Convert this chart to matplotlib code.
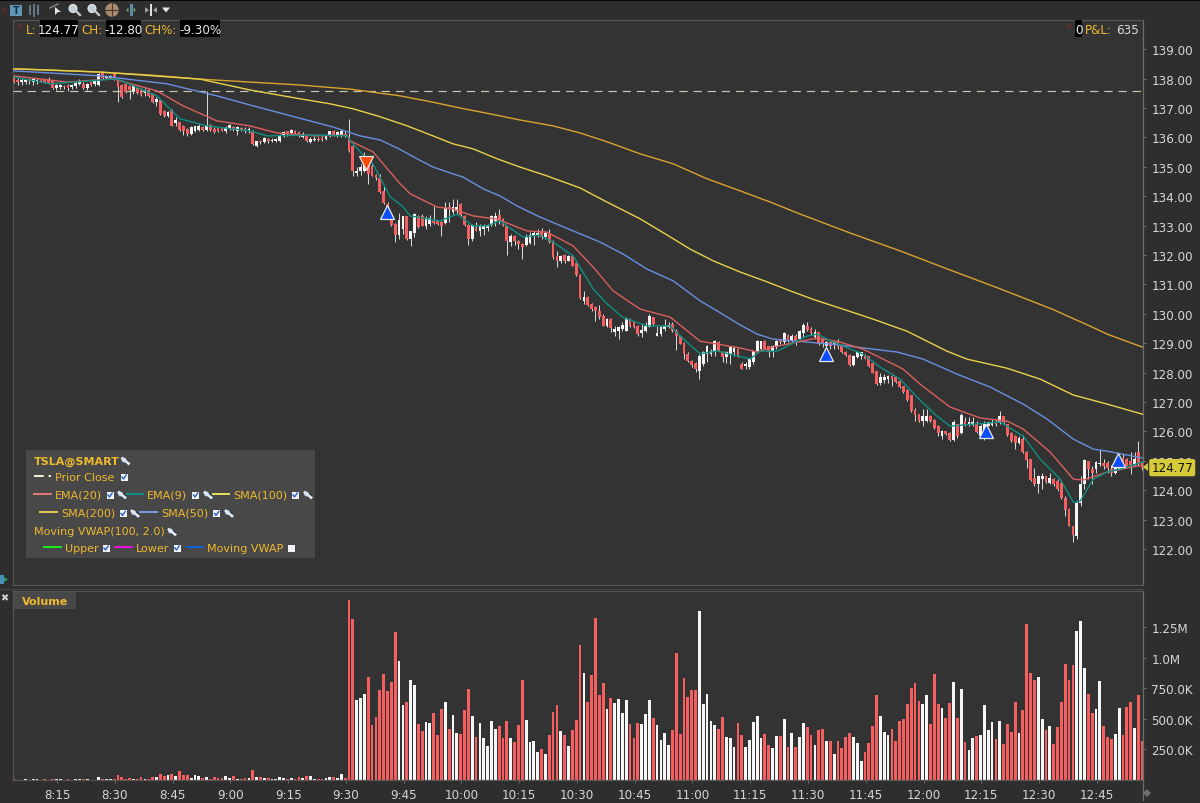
import matplotlib
matplotlib.use('Agg')
import matplotlib.pyplot as plt
from matplotlib.patches import Rectangle, Circle, Polygon

# 1-minute TSLA bars, first bar is about 8:04
opens = [
    138.08, 137.95, 137.87, 137.87, 137.99, 137.87, 137.87, 137.95, 137.95, 137.95, 137.90, 137.67, 137.70, 137.76, 137.78,
    137.70, 137.74, 137.83, 137.82, 137.67, 137.87, 137.82, 137.78, 138.19, 138.01, 138.01, 138.14, 137.93, 137.78, 137.82,
    137.74, 137.53, 137.67, 137.62, 137.51, 137.62, 137.48, 137.21, 137.28, 136.91, 136.72, 136.94, 136.49, 136.51, 136.40,
    136.29, 136.11, 136.23, 136.26, 136.36, 136.26, 136.42, 136.29, 136.31, 136.31, 136.22, 136.29, 136.34, 136.23, 136.31,
    136.29, 136.20, 136.23, 135.72, 135.89, 135.83, 135.95, 135.86, 135.88, 135.89, 136.04, 136.20, 136.15, 136.23, 136.17,
    136.00, 136.04, 135.83, 135.90, 135.95, 135.97, 135.95, 136.04, 136.23, 136.06, 136.06, 136.11,
    136.01, 135.72, 134.79, 134.85, 134.87, 135.21, 135.04, 134.72, 134.61, 134.17, 133.74, 133.23, 133.06, 132.68, 132.89,
    133.32, 132.53, 132.75, 133.34, 133.34, 132.98, 133.06, 133.17, 133.17, 133.11, 133.09, 133.62, 133.46, 133.48, 133.74,
    133.34, 133.02, 132.55, 132.92, 132.83, 132.87, 132.91, 133.02, 133.17, 133.36, 133.23, 132.98, 132.43, 132.64, 132.49,
    132.38, 132.34, 132.41, 132.66, 132.68, 132.83, 132.60, 132.72, 132.49, 131.96, 131.81, 132.00, 131.81, 131.98, 131.73,
    131.32, 130.45, 130.56, 130.34, 130.22, 130.11, 129.94, 129.60, 129.83, 129.37, 129.43, 129.49, 129.43, 129.83, 129.71,
    129.60, 129.35, 129.40, 129.54, 129.88, 129.26, 129.32, 129.49, 129.54, 129.66, 129.43, 129.26, 129.01, 128.64, 128.41,
    128.33, 128.07, 128.30, 128.64, 128.64, 128.72, 129.03, 128.69, 128.52, 128.64, 128.69, 128.81,
    128.29, 128.21, 128.18, 128.37, 128.74, 128.82, 129.08, 128.89, 128.74, 128.86, 129.12, 129.05, 129.29, 129.08, 129.25,
    129.14, 129.34, 129.59, 129.48, 129.20, 129.37, 129.14, 128.91, 129.03, 128.94, 129.03, 128.91, 128.71, 128.60, 128.26,
    128.52, 128.55, 128.60, 128.55, 128.32, 128.04, 127.64, 127.76, 127.78, 127.89, 127.84, 127.72, 127.53, 127.40, 127.23,
    126.72, 126.59, 126.36, 126.36, 126.53, 126.40, 126.19, 125.85, 126.00, 125.96, 125.72, 126.25, 125.94, 126.36, 126.23,
    126.23, 126.25, 125.83, 125.85, 126.19, 126.21, 126.33, 126.31, 126.51, 126.25, 125.94, 125.85, 125.60, 125.76, 125.31,
    125.06, 124.43, 124.21, 124.38, 124.47, 124.26, 124.40, 124.32, 124.24, 123.75, 123.38, 122.77, 122.45, 123.58, 124.21,
    124.99, 124.74, 124.72, 124.89, 124.94, 124.94, 124.74, 124.60, 124.74, 125.11, 125.06, 125.00, 124.85, 125.29, 124.97,
]
closes = [
    137.87, 137.87, 137.95, 137.95, 137.90, 137.99, 137.95, 137.90, 137.87, 137.85, 137.67, 137.78, 137.78, 137.70, 137.67,
    137.78, 137.85, 137.93, 137.67, 137.82, 137.78, 137.93, 138.16, 138.01, 138.08, 138.08, 137.99, 137.70, 137.36, 137.53,
    137.62, 137.74, 137.51, 137.44, 137.62, 137.40, 137.19, 137.31, 136.80, 136.72, 136.85, 136.40, 136.60, 136.26, 136.23,
    136.11, 136.34, 136.38, 136.40, 136.26, 136.42, 136.26, 136.17, 136.22, 136.23, 136.31, 136.42, 136.26, 136.34, 136.26,
    136.20, 136.29, 135.77, 135.86, 135.83, 135.97, 135.86, 135.92, 135.95, 136.08, 136.17, 136.11, 136.26, 136.15, 136.04,
    136.11, 135.89, 135.95, 135.95, 135.90, 135.90, 136.08, 136.20, 136.08, 136.17, 136.20, 136.04,
    135.52, 134.87, 134.87, 134.99, 135.27, 134.76, 134.70, 134.61, 134.13, 133.76, 133.34, 133.02, 132.68, 133.19, 133.32,
    132.55, 132.80, 133.40, 132.95, 133.00, 133.23, 133.25, 133.09, 133.06, 133.00, 133.59, 133.55, 133.62, 133.62, 133.36,
    133.02, 132.53, 133.02, 132.83, 132.98, 133.00, 133.02, 133.34, 133.34, 133.17, 133.00, 132.46, 132.66, 132.49, 132.38,
    132.27, 132.60, 132.68, 132.75, 132.75, 132.60, 132.75, 132.43, 131.92, 131.78, 131.98, 131.81, 131.98, 131.64, 131.32,
    130.53, 130.56, 130.30, 130.17, 130.08, 129.88, 129.60, 129.83, 129.51, 129.48, 129.54, 129.62, 129.83, 129.60, 129.54,
    129.32, 129.46, 129.60, 129.92, 129.66, 129.35, 129.54, 129.60, 129.62, 129.40, 129.26, 128.98, 128.64, 128.41, 128.26,
    128.13, 128.58, 128.69, 128.92, 128.75, 129.09, 128.75, 128.52, 128.69, 128.86, 128.83, 128.58,
    128.14, 128.29, 128.46, 128.74, 129.06, 129.06, 128.82, 128.71, 128.89, 129.06, 129.03, 129.34, 129.08, 129.25, 129.08,
    129.42, 129.62, 129.46, 129.34, 129.37, 128.97, 128.97, 129.03, 128.89, 129.03, 128.86, 128.69, 128.60, 128.26, 128.57,
    128.69, 128.69, 128.48, 128.21, 128.00, 127.61, 127.84, 127.84, 127.87, 127.80, 127.67, 127.50, 127.35, 127.08, 126.70,
    126.55, 126.36, 126.51, 126.53, 126.34, 126.13, 125.94, 126.00, 125.91, 125.72, 126.31, 125.85, 126.55, 126.23, 126.31,
    126.33, 125.99, 126.17, 126.25, 126.31, 126.31, 126.25, 126.51, 126.31, 125.87, 125.68, 125.62, 125.79, 125.31, 125.03,
    124.36, 124.21, 124.49, 124.49, 124.29, 124.43, 124.21, 124.04, 123.74, 123.33, 122.79, 122.47, 123.58, 124.21, 125.04,
    124.72, 124.60, 124.97, 124.94, 124.81, 124.77, 124.60, 124.77, 125.00, 124.83, 124.83, 124.83, 125.06, 124.89, 124.77,
]
highs = [
    138.10, 138.01, 138.01, 137.99, 138.01, 138.01, 138.01, 137.99, 137.99, 138.04, 137.90, 137.82, 137.82, 137.78, 137.82,
    137.82, 137.90, 137.99, 137.87, 137.85, 137.90, 137.99, 138.19, 138.21, 138.12, 138.12, 138.17, 137.99, 137.82, 137.85,
    137.78, 137.82, 137.70, 137.67, 137.67, 137.65, 137.51, 137.36, 137.31, 136.94, 136.91, 136.97, 136.68, 136.53, 136.42,
    136.31, 136.38, 136.40, 136.46, 136.40, 137.59, 136.46, 136.34, 136.34, 136.34, 136.40, 136.46, 136.38, 136.40, 136.34,
    136.34, 136.34, 136.25, 135.89, 135.92, 136.00, 135.97, 135.97, 135.99, 136.11, 136.20, 136.23, 136.29, 136.26, 136.20,
    136.17, 136.06, 136.00, 136.04, 136.00, 136.04, 136.11, 136.23, 136.26, 136.23, 136.26, 136.20,
    136.63, 135.75, 134.99, 135.10, 135.50, 135.30, 135.08, 134.76, 134.76, 134.30, 133.80, 133.30, 133.10, 133.43, 133.34,
    133.34, 132.83, 133.42, 133.37, 133.38, 133.34, 133.36, 133.66, 133.20, 133.15, 133.79, 133.79, 133.91, 133.89, 133.78,
    133.36, 133.04, 133.06, 133.11, 133.06, 133.06, 133.06, 133.36, 133.46, 133.57, 133.25, 133.00, 132.72, 132.68, 132.52,
    132.40, 132.72, 132.77, 132.80, 132.89, 132.91, 132.80, 132.89, 132.51, 132.12, 132.00, 132.02, 132.00, 132.00, 131.76,
    131.34, 130.76, 130.60, 130.36, 130.28, 130.30, 129.98, 129.85, 129.85, 129.60, 129.58, 129.71, 129.88, 129.85, 129.77,
    129.62, 129.66, 129.71, 130.00, 129.90, 129.60, 129.60, 129.83, 129.71, 129.71, 129.49, 129.29, 129.04, 128.69, 128.43,
    128.36, 128.64, 128.75, 128.94, 128.81, 129.12, 129.09, 128.72, 128.75, 128.90, 128.90, 128.85,
    128.35, 128.37, 128.48, 128.76, 129.12, 129.08, 129.10, 128.91, 128.94, 129.12, 129.15, 129.39, 129.31, 129.31, 129.31,
    129.46, 129.68, 129.73, 129.54, 129.50, 129.39, 129.16, 129.08, 129.08, 129.08, 129.16, 128.94, 128.74, 128.63, 128.60,
    128.71, 128.71, 128.63, 128.57, 128.35, 128.06, 127.98, 127.95, 127.91, 127.91, 127.89, 127.74, 127.55, 127.44, 127.25,
    126.81, 126.61, 126.76, 126.78, 126.55, 126.42, 126.21, 126.06, 126.02, 125.98, 126.40, 126.27, 126.62, 126.48, 126.48,
    126.48, 126.36, 126.25, 126.36, 126.33, 126.42, 126.42, 126.70, 126.53, 126.27, 125.99, 125.87, 125.85, 125.87, 125.33,
    125.08, 124.77, 124.51, 124.58, 124.49, 124.60, 124.43, 124.38, 124.32, 123.79, 123.40, 122.79, 123.64, 124.49, 125.06,
    125.01, 124.83, 125.00, 125.38, 125.06, 125.00, 124.85, 124.83, 125.06, 125.23, 125.10, 125.31, 125.31, 125.68, 125.00,
]
lows = [
    137.85, 137.78, 137.78, 137.82, 137.82, 137.78, 137.82, 137.87, 137.85, 137.82, 137.65, 137.62, 137.65, 137.65, 137.56,
    137.65, 137.67, 137.78, 137.65, 137.62, 137.76, 137.76, 137.76, 137.99, 137.99, 137.99, 137.95, 137.19, 137.33, 137.51,
    137.31, 137.48, 137.47, 137.40, 137.42, 137.36, 137.17, 137.08, 136.76, 136.68, 136.68, 136.38, 136.40, 136.23, 136.08,
    136.06, 136.08, 136.17, 136.20, 136.20, 136.21, 136.23, 136.15, 136.17, 136.20, 136.15, 136.24, 136.23, 136.08, 136.23,
    136.15, 136.15, 135.74, 135.67, 135.78, 135.81, 135.81, 135.83, 135.83, 135.85, 136.00, 136.06, 136.10, 136.10, 136.00,
    135.97, 135.85, 135.80, 135.86, 135.88, 135.86, 135.90, 136.00, 136.04, 136.01, 136.01, 136.00,
    135.50, 134.70, 134.70, 134.72, 134.82, 134.42, 134.68, 134.55, 134.10, 133.74, 133.30, 133.00, 132.43, 132.55, 132.72,
    132.50, 132.30, 132.60, 132.93, 132.98, 132.89, 133.00, 133.06, 133.03, 132.63, 133.06, 133.11, 133.40, 133.40, 133.34,
    133.00, 132.34, 132.46, 132.80, 132.64, 132.68, 132.80, 133.00, 133.00, 133.06, 132.98, 132.00, 132.30, 132.34, 132.21,
    131.87, 132.32, 132.38, 132.34, 132.60, 132.55, 132.55, 132.41, 131.87, 131.58, 131.73, 131.73, 131.78, 131.62, 131.30,
    130.51, 130.34, 130.27, 130.11, 129.74, 129.83, 129.58, 129.54, 129.37, 129.26, 129.15, 129.40, 129.40, 129.54, 129.51,
    129.24, 129.20, 129.37, 129.54, 129.60, 129.23, 129.26, 129.43, 129.51, 129.37, 128.78, 128.96, 128.47, 128.35, 128.18,
    128.01, 127.79, 128.24, 128.35, 128.58, 128.58, 128.72, 128.35, 128.33, 128.30, 128.58, 128.52,
    128.12, 128.14, 128.12, 128.29, 128.71, 128.78, 128.80, 128.52, 128.52, 128.82, 128.98, 128.97, 129.04, 129.03, 128.94,
    129.12, 129.20, 129.42, 129.28, 129.16, 128.94, 128.86, 128.80, 128.82, 128.82, 128.82, 128.66, 128.58, 128.24, 128.24,
    128.49, 128.48, 128.46, 128.18, 127.98, 127.58, 127.57, 127.64, 127.64, 127.53, 127.64, 127.47, 127.30, 127.04, 126.67,
    126.36, 126.33, 126.19, 126.31, 126.31, 126.10, 125.85, 125.76, 125.87, 125.68, 125.68, 125.79, 125.91, 126.19, 126.19,
    126.19, 125.96, 125.79, 125.72, 126.17, 126.17, 126.19, 126.25, 126.28, 125.85, 125.65, 125.42, 125.57, 125.28, 124.77,
    124.33, 124.15, 123.90, 124.06, 124.26, 124.21, 124.15, 123.98, 123.72, 123.11, 122.77, 122.25, 122.34, 123.45, 124.04,
    124.38, 124.21, 124.60, 124.83, 124.74, 124.60, 124.49, 124.55, 124.70, 124.77, 124.80, 124.55, 124.83, 124.83, 124.70,
]

# volume per bar, in thousands of shares
volumes = [
    8, 2, 2, 8, 2, 8, 8, 2, 8, 2, 8, 8, 8, 2, 8, 2, 8, 8, 8, 8, 2, 2, 22, 8, 8, 8, 8, 41, 22, 8,
    16, 8, 8, 24, 8, 8, 24, 27, 49, 33, 44, 49, 33, 73, 41, 41, 16, 41, 33, 16, 24, 8, 24, 14, 19, 33, 19, 33, 8, 8,
    16, 16, 82, 24, 24, 16, 16, 8, 8, 24, 16, 8, 16, 8, 24, 16, 33, 33, 8, 8, 8, 16, 24, 24, 16, 49,
    16, 1469, 1319, 653, 669, 699, 838, 449, 511, 732, 865, 724, 800, 1208, 974, 612, 636, 816, 778, 457,
    400, 471, 465, 544, 370, 579, 636, 416, 528, 384, 378, 574, 740, 522, 354, 465, 345, 277, 481, 416,
    438, 340, 479, 340, 307, 449, 816, 490, 307, 316, 228, 253, 212, 370, 558, 612, 400, 370, 277, 408,
    490, 1099, 873, 636, 857, 1327, 694, 792, 582, 669, 628, 661, 544, 653, 457, 340, 465, 457, 536, 653,
    503, 449, 324, 386, 286, 408, 1036, 378, 832, 677, 732, 732, 1382, 620, 699, 481, 449, 416, 511, 348,
    340, 269, 465, 370, 269, 324, 473, 520,
    345, 375, 286, 261, 362, 362, 495, 269, 384, 269, 354, 465, 432, 370, 286, 408, 416, 316, 316, 212,
    316, 261, 354, 384, 354, 299, 158, 228, 299, 441, 691, 520, 394, 370, 416, 316, 479, 495, 620, 753,
    792, 645, 620, 691, 457, 865, 620, 590, 503, 628, 800, 503, 745, 307, 245, 345, 362, 370, 612, 408,
    471, 337, 479, 291, 457, 394, 636, 384, 574, 1273, 873, 816, 840, 495, 408, 441, 291, 432, 636, 944,
    816, 936, 1216, 1295, 919, 699, 549, 582, 808, 441, 354, 337, 378, 590, 370, 596, 636, 424, 691, 316,
]

# moving averages, (bar number, price)
sma200_x = [0, 9.4, 22.3, 35.3, 48.3, 61.3, 74.3, 87.3, 100.3, 108.6, 116.9, 123.6, 131.4, 140, 147, 154, 162.6, 171.2, 180, 188.6,
            196.4, 204.2, 217.1, 230.1, 243.1, 256.1, 269.6, 279.5, 283.9, 293]
sma200_y = [138.33, 138.29, 138.22, 138.12, 137.98, 137.88, 137.78, 137.64, 137.41, 137.20, 136.97, 136.80, 136.59, 136.39, 136.15, 135.85, 135.44, 135.10, 134.59, 134.18,
            133.80, 133.39, 132.75, 132.14, 131.49, 130.85, 130.16, 129.58, 129.31, 128.87]
sma100_x = [0, 22.3, 48.3, 61.3, 74.3, 82.1, 88.1, 95.1, 102.1, 108.8, 114, 119.2, 125.5, 131.4, 138.4, 147, 154, 162.6, 169.6, 175.6, 181.6, 188.6,
            195.1, 201.6, 208, 215.3, 223.1, 231.9, 237.1, 242.3, 247.5, 257.9, 266.5, 275.1, 283.9, 293]
sma100_y = [138.33, 138.22, 137.98, 137.61, 137.31, 137.14, 136.97, 136.70, 136.39, 136.05, 135.78, 135.61, 135.27, 134.99, 134.69, 134.28, 133.80, 133.23, 132.68, 132.20, 131.80, 131.42,
            131.11, 130.78, 130.47, 130.16, 129.82, 129.41, 129.07, 128.73, 128.46, 128.15, 127.78, 127.24, 126.93, 126.59]
sma50_x = [0, 22.3, 39.7, 52.7, 61.3, 69.9, 82.9, 89.9, 95.1, 99.5, 104.7, 108.8, 114, 116.6, 122, 126.2, 130.6, 136.6, 145.2, 152.2, 158.2, 164.4, 171.2, 178.2, 182.6, 188.6,
           193, 197.1, 205.9, 214.5, 223.1, 229.4, 236.1, 244.9, 253.5, 262.1, 268.3, 275.1, 280.3, 283.9, 293]
sma50_y = [138.26, 138.09, 137.82, 137.41, 137.10, 136.80, 136.35, 136.05, 135.91, 135.64, 135.27, 134.99, 134.76, 134.65, 134.24, 134.01, 133.67, 133.29, 132.82, 132.44, 132.03, 131.52, 131.12, 130.44, 130.10, 129.62,
           129.31, 129.14, 129.04, 128.94, 128.80, 128.70, 128.46, 127.95, 127.51, 126.93, 126.42, 125.74, 125.40, 125.33, 125.10]
ema20_x = [0, 13.8, 25.7, 37.1, 43.9, 52.7, 61.3, 68.3, 78.7, 86.5, 87.3, 93.2, 100.3, 102.9, 109.9, 114, 119.2, 125.5, 133.2, 138.4, 145.2,
           150.4, 155.6, 162.6, 170.4, 178.2, 188.6, 193, 197.1, 208.6, 214.5, 220.5, 230.9, 235.3, 243.1, 250.9, 258, 262.1, 269.1, 275.1, 277.7, 283.9, 293]
ema20_y = [138.09, 137.88, 137.99, 137.58, 137.07, 136.56, 136.39, 136.15, 136.05, 136.08, 135.88, 135.51, 134.42, 134.08, 133.63, 133.57, 133.33, 133.22, 132.82, 132.78, 132.31,
           131.59, 130.78, 130.16, 129.89, 129.07, 128.84, 128.70, 128.87, 129.18, 129.04, 128.80, 128.12, 127.61, 126.83, 126.46, 126.35, 126.08, 125.30, 124.38, 124.35, 124.62, 124.86]
ema9_x = [0, 9.4, 26.8, 37.1, 43.1, 50.1, 61.3, 65.7, 78.7, 86.5, 87.3, 90.4, 93.2, 97.7, 100.8, 102.9, 106.2, 110.6, 115.1, 119.2, 122.9, 126.2, 132.2, 136.6, 140, 145.2,
          150.4, 154, 158.2, 164.4, 170.4, 173.8, 178.2, 182.6, 187.8, 191.2, 193.8, 198.2, 205.9, 208.6, 212.7, 220.5, 224.9, 230.1, 234.5, 239.7, 243.1, 249.1, 256.1, 262.1,
          266.5, 271.7, 275.1, 276.9, 280.3, 283.9, 287.3, 293]
ema9_y = [138.05, 137.82, 137.99, 137.41, 136.63, 136.39, 136.22, 136.05, 136.08, 136.05, 135.88, 135.44, 135.10, 133.98, 133.67, 133.33, 133.26, 133.16, 133.39, 132.99, 132.99, 133.16, 132.61, 132.68, 132.44, 131.97,
          130.85, 130.34, 129.87, 129.59, 129.59, 129.15, 128.64, 128.74, 128.57, 128.47, 128.73, 128.73, 129.24, 129.31, 129.04, 128.63, 128.19, 127.78, 127.17, 126.52, 126.18, 126.25, 126.32, 125.84,
          125.06, 124.38, 123.60, 123.63, 124.38, 124.62, 124.72, 124.96]

prior_close = 137.57

# trade markers
sell_x = [91.3]
sell_y = [135.12]
buy_x = [96.9, 211, 252.5, 286.8]
buy_y = [133.47, 128.63, 126.03, 125.03]

price_ticks = list(range(122, 140))
vol_ticks = [250, 500, 750, 1000, 1250]
vol_tick_labels = ['250.0K', '500.0K', '750.0K', '1.0M', '1.25M']
time_ticks = [11.2 + 15 * k for k in range(19)]
time_labels = ['8:15', '8:30', '8:45', '9:00', '9:15', '9:30', '9:45', '10:00', '10:15', '10:30',
               '10:45', '11:00', '11:15', '11:30', '11:45', '12:00', '12:15', '12:30', '12:45']

BG = '#2e2e2e'
PANEL = '#333333'
RED = '#f65f5f'
WHITE = '#f6f6f6'
WICK = '#d8d8d8'
GRID = '#6e6e6e'
TXT = '#d6d6d6'
GOLD = '#eeb92f'
W, H = 1200, 804


def pixel_axes(fig, left, top, right, bottom):
    return fig.add_axes([left / W, 1 - bottom / H, (right - left) / W, (bottom - top) / H])


fig = plt.figure(figsize=(12, 8.04), dpi=100, facecolor=BG)
ax = pixel_axes(fig, 13, 21, 1143, 586)
ax_vol = pixel_axes(fig, 13, 592, 1143, 781)
bars = range(len(closes))
is_down = [c < o for o, c in zip(opens, closes)]
bar_colors = [RED if d else WHITE for d in is_down]

# Candles
ax.set_facecolor(PANEL)
ax.vlines(bars, lows, highs, color=WICK, linewidth=0.72, zorder=2)
tops = [max(o, c) for o, c in zip(opens, closes)]
bots = [min(o, c) for o, c in zip(opens, closes)]
ax.bar(bars, [t - b for t, b in zip(tops, bots)], bottom=bots, width=0.72, color=bar_colors, linewidth=0, zorder=3)

# Overlays
ax.axhline(prior_close, color='#c8c8b0', linewidth=0.85, linestyle=(0, (7, 5)), zorder=4)
ax.plot(sma200_x, sma200_y, color='#d9a32e', linewidth=1.0, zorder=5)
ax.plot(sma100_x, sma100_y, color='#e6d24a', linewidth=1.0, zorder=5)
ax.plot(sma50_x, sma50_y, color='#6a8fe0', linewidth=1.0, zorder=5)
ax.plot(ema20_x, ema20_y, color='#d9605e', linewidth=1.0, zorder=6)
ax.plot(ema9_x, ema9_y, color='#0f8f84', linewidth=1.0, zorder=7)

ax.plot(sell_x, sell_y, linestyle='none', marker='v', markersize=10.5, color='#ff4a0a',
        markeredgecolor='#e8e8e8', markeredgewidth=0.9, zorder=9)
ax.plot(buy_x, buy_y, linestyle='none', marker='^', markersize=10.5, color='#0a4dff',
        markeredgecolor='#e8e8e8', markeredgewidth=0.9, zorder=9)

ax.set_xlim(-0.26, 293.2)
ax.set_ylim(120.78, 139.99)
ax.yaxis.tick_right()
ax.set_yticks(price_ticks)
ax.set_yticklabels(['%.2f' % p for p in price_ticks])
ax.set_xticks([])

# Volume pane
ax_vol.set_facecolor(PANEL)
ax_vol.bar(bars, volumes, width=0.72, color=bar_colors, linewidth=0)
ax_vol.set_xlim(-0.26, 293.2)
ax_vol.set_ylim(0, 1544)
ax_vol.yaxis.tick_right()
ax_vol.set_yticks(vol_ticks)
ax_vol.set_yticklabels(vol_tick_labels)
ax_vol.set_xticks(time_ticks)
ax_vol.set_xticklabels(time_labels)

for a in (ax, ax_vol):
    for side in a.spines:
        a.spines[side].set_color('#555555')
        a.spines[side].set_linewidth(0.9)
    a.spines['right'].set_color(GRID)
    a.tick_params(axis='both', colors=GRID, length=2.5, width=0.7, labelsize=8.6, labelcolor=TXT, pad=3.5)
ax_vol.tick_params(axis='x', pad=3)

# Last price tag on the axis
last_text = ax.annotate('%.2f' % closes[-1], xy=(1.0, closes[-1]), xycoords=ax.get_yaxis_transform(),
                        xytext=(6, 0), textcoords='offset points', ha='left', va='center',
                        fontsize=8.6, color='#111111', annotation_clip=False, zorder=20,
                        bbox=dict(boxstyle='round,pad=0.18', facecolor='#d6ca38', edgecolor='none'))

# Screen furniture, drawn in pixel coordinates
ui = fig.add_axes([0, 0, 1, 1], zorder=10)
ui.set_xlim(0, W)
ui.set_ylim(H, 0)
ui.axis('off')
ui.patch.set_alpha(0)
ui.add_patch(Rectangle((0, 0), W, 1.5, color='#050505', lw=0))
ui.plot([1143, 1143], [781, 801], color=GRID, lw=0.9)
ui.plot([0, 1143], [589.5, 589.5], color='#444444', lw=1)
ui.add_patch(Polygon([[1143, 468], [1148, 464], [1148, 472]], color='#d6ca38', lw=0))


def label(x, y, s, color=GOLD, size=8.0, weight='normal'):
    ui.text(x, y, s, color=color, fontsize=size, fontweight=weight, ha='left', va='center')


def black_value(x0, x1, s):
    ui.add_patch(Rectangle((x0, 21), x1 - x0, 17, color='#000000', lw=0))
    ui.text((x0 + x1) / 2, 30.5, s, color='#eeeeee', fontsize=8.6, ha='center', va='center')


def checkbox(x, y, checked=True):
    ui.add_patch(Rectangle((x - 3.5, y - 3.5), 7, 7, color='#f4f4f8', lw=0))
    if checked:
        ui.plot([x - 2, x - 0.5, x + 2.2], [y, y + 2, y - 2], color='#2060c0', lw=1)


def wrench(x, y):
    ui.plot([x - 3, x + 3], [y - 2.5, y + 2.5], color='#dde6f2', lw=2)
    ui.add_patch(Circle((x + 1.5, y + 1), 2.2, color='#16202c', lw=0))
    ui.add_patch(Circle((x - 1.5, y - 1), 2.4, color='#b8c8dc', lw=0))


def swatch(x0, x1, y, color, **kw):
    ui.plot([x0, x1], [y, y], color=color, lw=1.4, **kw)


# Toolbar
ui.add_patch(Rectangle((10, 6), 12, 11, color='#5f97b5', lw=0))
ui.text(16, 11.5, 'T', color='#12324a', fontsize=7, fontweight='bold', ha='center', va='center')
for x, h in ((30, 8), (34, 11), (38, 8)):
    ui.plot([x, x], [11 - h / 2, 11 + h / 2], color='#66788c', lw=1.4)
ui.plot([50, 58], [9, 5], color='#8a8a8a', lw=1)
ui.add_patch(Polygon([[55, 8], [55, 16], [58, 13], [61, 13]], color='#e8e8e8', lw=0))
for x in (73, 92):
    ui.add_patch(Circle((x, 9.5), 4, facecolor='#bcd0dc', edgecolor='#e8e8e8', lw=0.8))
    ui.plot([x + 3, x + 7], [12, 16], color='#cfcfcf', lw=1.6)
ui.add_patch(Circle((112, 11), 6.8, color='#a98a6c', lw=0))
ui.plot([105, 119], [11, 11], color='#4a3a2c', lw=0.8)
ui.plot([112, 112], [4, 18], color='#4a3a2c', lw=0.8)
ui.add_patch(Rectangle((129.5, 5), 3, 12, color='#5f8aa8', lw=0))
ui.add_patch(Polygon([[126, 11], [128.5, 8.5], [128.5, 13.5]], color='#6aa06a', lw=0))
ui.add_patch(Polygon([[136, 11], [133.5, 8.5], [133.5, 13.5]], color='#6aa06a', lw=0))
ui.add_patch(Rectangle((150, 5), 1.6, 12, color='#e0e0e0', lw=0))
ui.add_patch(Polygon([[145, 8], [149, 11], [145, 14]], color='#9aa0a6', lw=0))
ui.add_patch(Polygon([[157, 8], [153, 11], [157, 14]], color='#9aa0a6', lw=0))
ui.add_patch(Polygon([[162, 8.5], [170, 8.5], [166, 13.5]], color='#e8e8e8', lw=0))
ui.text(4, 11, '×', color='#6e3030', fontsize=7, ha='center', va='center')

# Header values
ui.text(20, 27, '×', color='#6e3030', fontsize=7, ha='center', va='center')
label(26, 30.5, 'L:', size=8.6)
black_value(40, 78, '124.77')
label(81, 30.5, 'CH:', size=8.6)
black_value(106, 141, '-12.80')
label(144, 30.5, 'CH%:', size=8.6)
black_value(180, 220, '-9.30%')
ui.text(1069, 27, '×', color='#6e3030', fontsize=7, ha='center', va='center')
black_value(1075, 1082, '0')
label(1085, 30.5, 'P&L:', size=8.6)
label(1116, 30.5, '635', color='#dcdcdc', size=8.6)

# Study legend box
ui.add_patch(Rectangle((26, 451), 289, 108, color='#484848', lw=0))
label(34, 461.5, 'TSLA@SMART', weight='bold')
wrench(125.5, 462)
swatch(34, 51, 477, '#f2f2dc', linestyle=(0, (5, 2.5)))
label(55, 478, 'Prior Close')
checkbox(124, 478)
swatch(34, 51, 495, '#e47a78')
label(55, 496, 'EMA(20)')
checkbox(110, 496)
wrench(122, 496)
swatch(127, 143, 495, '#0f8f84')
label(147, 496, 'EMA(9)')
checkbox(195.5, 496)
wrench(208, 496)
swatch(213, 229, 495, '#e6e060')
label(233, 496, 'SMA(100)')
checkbox(295, 496)
wrench(308, 496)
swatch(40, 57, 513, '#e8c450')
label(61, 514, 'SMA(200)')
checkbox(123, 514.5)
wrench(135, 514.5)
swatch(140, 157, 513, '#7c9ce0')
label(161, 514, 'SMA(50)')
checkbox(216.5, 514.5)
wrench(229, 514.5)
label(34, 532.5, 'Moving VWAP(100, 2.0)')
wrench(172, 533)
swatch(44, 61, 548, '#18f018')
label(64.5, 549, 'Upper')
checkbox(106, 549)
swatch(115, 132, 548, '#f010e0')
label(136, 549, 'Lower')
checkbox(177, 549)
swatch(187, 203, 548, '#1060d8')
label(207, 549, 'Moving VWAP')
checkbox(291, 549, checked=False)

# Volume pane tab and edge icons
ui.add_patch(Rectangle((14, 593), 62, 17, color='#484848', lw=0))
label(22, 602, 'Volume', weight='bold')
ui.text(4, 598, '✖', color='#d0d0d0', fontsize=7, ha='center', va='center')
ui.add_patch(Rectangle((0, 576), 4, 9, color='#4a90b8', lw=0))
ui.add_patch(Polygon([[4, 578], [8, 580.5], [4, 583]], color='#20a060', lw=0))
ui.add_patch(Polygon([[1143, 794], [1147, 790], [1151, 794], [1147, 798]], color='#707070', lw=0))

plt.savefig('out.png', dpi=100, facecolor=BG)
plt.close()
